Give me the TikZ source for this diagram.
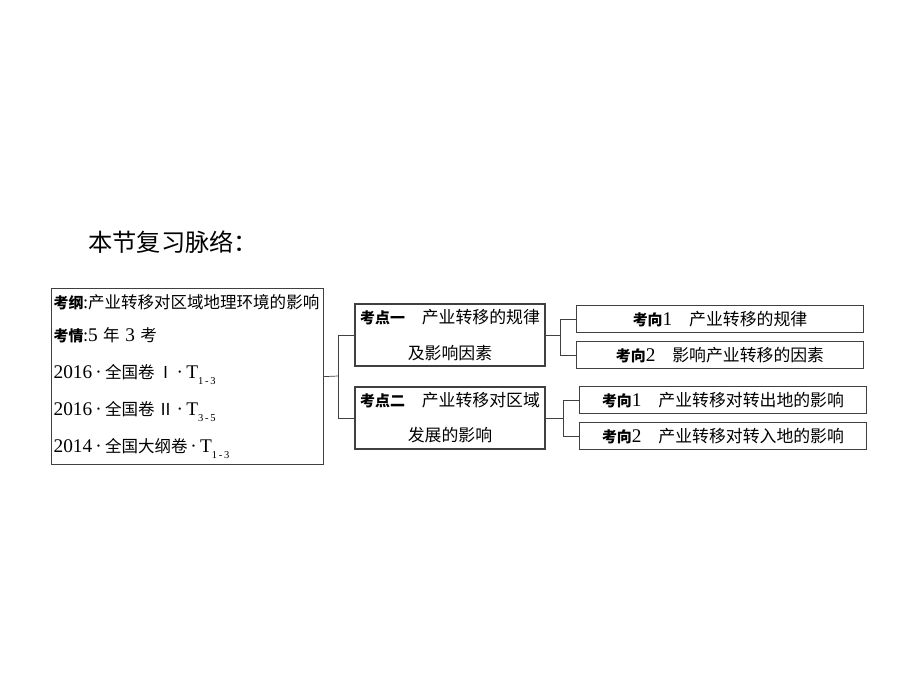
\documentclass[tikz,border=0pt]{standalone}
\usepackage{fontspec}
\setmainfont{Liberation Serif}
\newfontfamily\cjk{Noto Sans CJK SC}
\newdimen\pxu \pxu=0.02cm
\newcommand{\kb}[1]{{\cjk\bfseries\fontsize{8.5}{10}\selectfont #1}}
\newcommand{\num}[1]{{\rmfamily\fontsize{11}{12}\selectfont #1}}
\newcommand{\sub}[1]{\raisebox{-.7ex}{\rmfamily\fontsize{6}{7}\selectfont #1}}

\begin{document}
\begin{tikzpicture}[x=\pxu,y=-\pxu,
  box/.style={draw=black!75,line width=.7pt,rectangle,inner sep=1pt},
  kd/.style={box,minimum width=190\pxu,minimum height=62\pxu,align=center,font=\cjk\fontsize{9.6}{20}\selectfont},
  kx/.style={box,minimum width=287\pxu,minimum height=27\pxu,font=\cjk\fontsize{9.6}{11}\selectfont}]
\useasboundingbox (0,0) rectangle (920,690);
\node (title)[anchor=west,inner sep=0pt,font=\cjk\fontsize{13.8}{16}\selectfont] at (88,242) {本节复习脉络：};
\node (kg)[box,anchor=north west,minimum width=272\pxu,minimum height=176\pxu,text width=268\pxu,align=left,font=\cjk\fontsize{9.4}{19}\selectfont] at (51,288) {\kb{考纲}:产业转移对区域地理环境的影响\\
\kb{考情}:\num{5} 年 \num{3} 考\\[2pt]
\num{2016\,·\,}全国卷\,Ⅰ\,\num{·\,T}\sub{1\,-\,3}\\[2pt]
\num{2016\,·\,}全国卷\,Ⅱ\,\num{·\,T}\sub{3\,-\,5}\\[2pt]
\num{2014\,·\,}全国大纲卷\,\num{·\,T}\sub{1\,-\,3}};
\node (kd1)[kd] at (450,335) {\kb{考点一}\quad 产业转移的规律\\及影响因素};
\node (kd2)[kd] at (450,418) {\kb{考点二}\quad 产业转移对区域\\发展的影响\hspace{2em}};
\node (kx11)[kx] at (720,319) {\kb{考向}\num{1}\quad 产业转移的规律};
\node (kx12)[kx,line width=1pt] at (720,355) {\kb{考向}\num{2}\quad 影响产业转移的因素};
\node (kx21)[kx] at (723,400) {\kb{考向}\num{1}\quad 产业转移对转出地的影响};
\node (kx22)[kx] at (723,436) {\kb{考向}\num{2}\quad 产业转移对转入地的影响};
% connectors
\coordinate (j0) at (338,376);
\coordinate (j1) at (560,335);
\coordinate (j2) at (563,418);
\draw[black!75] (kg.east) -- (j0);
\foreach \to in {kd1,kd2}
\draw[black!75] (j0) |- (\to.west);
\draw[black!75] (kd1.east) -- (j1);
\foreach \to in {kx11,kx12}
\draw[black!75] (j1) |- (\to.west);
\draw[black!75] (kd2.east) -- (j2);
\foreach \to in {kx21,kx22}
\draw[black!75] (j2) |- (\to.west);
\end{tikzpicture}
\end{document}
